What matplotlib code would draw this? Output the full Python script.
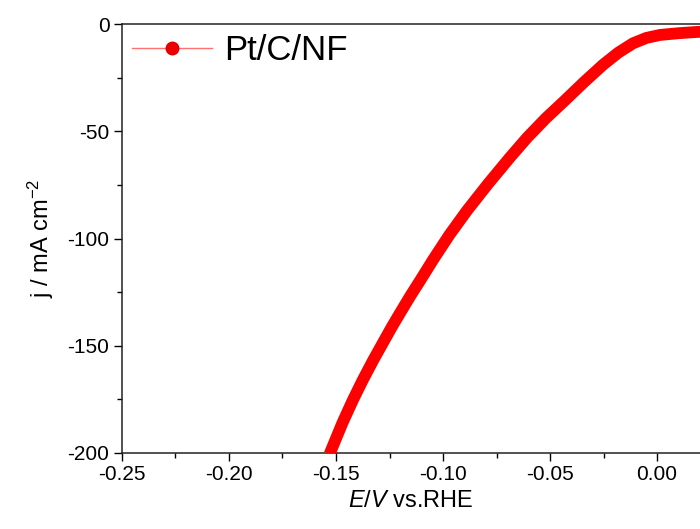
import matplotlib
matplotlib.use('Agg')
import matplotlib.pyplot as plt
from matplotlib.lines import Line2D
from matplotlib.ticker import MultipleLocator

plt.rcParams['font.family'] = ['Liberation Sans', 'DejaVu Sans']
plt.rcParams['mathtext.fontset'] = 'custom'
plt.rcParams['mathtext.it'] = 'Liberation Sans:italic'
plt.rcParams['mathtext.rm'] = 'Liberation Sans'

# LSV curve (E vs RHE in V, j in mA cm^-2)
potential = [-0.1530, -0.1470, -0.1421, -0.1375, -0.1327, -0.1280, -0.1238, -0.1195,
             -0.1154, -0.1100, -0.1047, -0.0970, -0.0888, -0.0790, -0.0687, -0.0607,
             -0.0520, -0.0430, -0.0340, -0.0252, -0.0180, -0.0112, -0.0050, 0.0014,
             0.0100, 0.0187, 0.0210]
current = [-200.5, -186.0, -175.3, -166.0, -156.9, -148.5, -141.0, -133.8,
           -127.0, -118.5, -110.0, -98.3, -87.0, -74.6, -62.2, -53.0,
           -44.0, -35.6, -27.0, -19.0, -13.3, -9.0, -6.5, -5.1,
           -4.3, -3.7, -3.6]
series_label = 'Pt/C/NF'

fig = plt.figure(figsize=(7.0, 5.29), dpi=100)
ax = fig.add_axes([122 / 700, (529 - 453) / 529, (700 - 122) / 700, (453 - 24) / 529])

ax.plot(potential, current, color='#ff0000', lw=8.5, solid_capstyle='butt',
        solid_joinstyle='round', zorder=3)

ax.set_xlim(-0.25, -0.25 + 578 / 2140)
ax.set_ylim(-200, 0)
ax.xaxis.set_minor_locator(MultipleLocator(0.025))
ax.yaxis.set_minor_locator(MultipleLocator(25))
ax.set_xticks([-0.25, -0.20, -0.15, -0.10, -0.05, 0.00])
ax.set_xticklabels(['-0.25', '-0.20', '-0.15', '-0.10', '-0.05', '0.00'])
ax.set_yticks([0, -50, -100, -150, -200])
ax.set_yticklabels(['0', '-50', '-100', '-150', '-200'])

ax.tick_params(which='major', direction='out', length=6, width=1, labelsize=15, pad=3)
ax.tick_params(which='minor', direction='out', length=3.5, width=1)
ax.tick_params(top=False, right=False)
for side in ['left', 'bottom', 'top']:
    ax.spines[side].set_linewidth(1.1)
    ax.spines[side].set_color('#222222')
ax.spines['right'].set_visible(False)

ax.set_xlabel('$E/V$ vs.RHE', fontsize=17, labelpad=4)
ax.set_ylabel('j / mA cm$^{-2}$', fontsize=17, labelpad=8)

handle = Line2D([], [], color='#ff7070', lw=1.0, marker='o', ms=9,
                markerfacecolor='#ee0000', markeredgecolor='#dd0000')
ax.legend([handle], [series_label], loc='upper left', frameon=False, fontsize=25,
          handlelength=2.3, handletextpad=0.35, borderaxespad=0.1, borderpad=0.2)

fig.savefig('out.png', dpi=100, facecolor='white')
